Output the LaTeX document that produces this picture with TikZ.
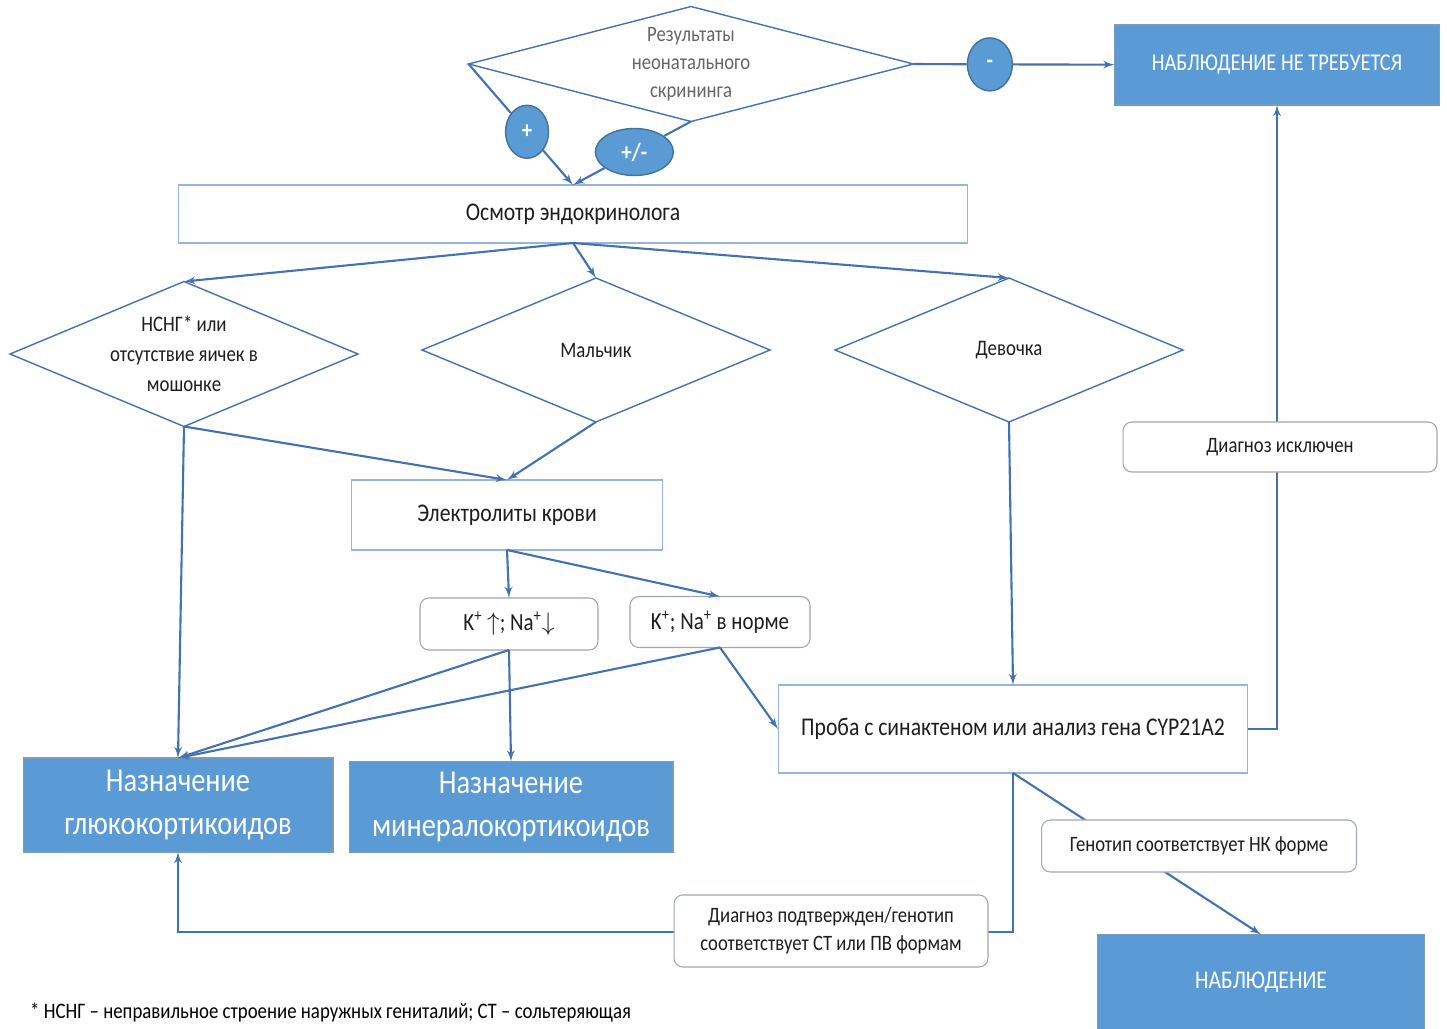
\documentclass[tikz,border=0pt]{standalone}
\usepackage{fontspec}
\setmainfont{Carlito}[FakeStretch=0.85]
\usetikzlibrary{shapes.geometric,arrows,calc}

\definecolor{lineblue}{RGB}{68,114,176}
\definecolor{fillblue}{RGB}{91,155,213}
\definecolor{edgeblue}{RGB}{65,113,156}
\definecolor{boxline}{RGB}{150,180,220}
\definecolor{tagline}{RGB}{160,168,178}
\definecolor{txt}{RGB}{30,30,30}

\newcommand{\fsz}[2]{\fontsize{#1}{#2}\selectfont}

\tikzset{
  conn/.style={draw=lineblue, line width=1.2pt},
  arr/.style={conn, -latex'},
  decision/.style={diamond, draw=lineblue, line width=.8pt, fill=white,
    inner sep=0pt, outer sep=0pt, minimum width=6.96cm, minimum height=2.88cm},
  dtext/.style={align=center, text=txt, font=\fsz{12.6pt}{17pt}},
  plainbox/.style={rectangle, draw=boxline, line width=.6pt, fill=white,
    text=txt, font=\fsz{14.5pt}{17pt}, outer sep=0pt},
  bluebox/.style={rectangle, draw=edgeblue!70, line width=.6pt, fill=fillblue,
    text=white, align=center, outer sep=0pt},
  tag/.style={rectangle, rounded corners=5pt, draw=tagline, line width=.6pt,
    fill=white, text=txt, align=center, font=\fsz{12.5pt}{16pt}, outer sep=0pt},
  sign/.style={ellipse, draw=edgeblue, line width=.8pt, fill=fillblue,
    text=white, inner sep=0pt, font=\bfseries\fsz{14pt}{15pt}}
}

\begin{document}
\begin{tikzpicture}[x=0.02cm, y=-0.02cm]
\useasboundingbox (0,0) rectangle (1447,1028);

% screening and first step
\node[decision, minimum width=8.9cm, minimum height=2.3cm,
  label={[dtext, text=black!60, font=\fsz{12.5pt}{16pt}]center:{Результаты\\неонатального\\скрининга}}] (res) at (691,64) {};
\node[bluebox, minimum width=6.5cm, minimum height=1.6cm, font=\fsz{13.7pt}{16pt}] (nnt) at (1277,65) {НАБЛЮДЕНИЕ НЕ ТРЕБУЕТСЯ};
\node[plainbox, minimum width=15.8cm, minimum height=1.16cm] (osm) at (573,214) {Осмотр эндокринолога};

\node[sign, minimum width=.86cm, minimum height=1.06cm] (plus) at ($(res.west)!0.56!(osm.north)$) {+};
\node[sign, minimum width=1.56cm, minimum height=.94cm] (pm) at ($(res.south)!0.48!(osm.north)$) {+/-};
\node[sign, minimum width=.9cm, minimum height=1.06cm] (minus) at ($(res.east)!0.38!(nnt.west)$) {-};

% sex / genitals
\node[decision, minimum height=2.9cm,
  label={[dtext]center:{НСНГ* или\\отсутствие яичек в\\мошонке}}] (dsd) at (184,354) {};
\node[decision, label={[dtext]center:Мальчик}] (boy) at (596,350) {};
\node[decision, label={[dtext]center:Девочка}] (girl) at (1009,350) {};

% electrolytes
\node[plainbox, minimum width=6.22cm, minimum height=1.4cm] (elec) at (507,515) {Электролиты крови};
\node[tag, minimum width=3.56cm, minimum height=1.04cm, font=\fsz{14pt}{16pt}] (kup) at (509,624)
  {K\textsuperscript{+} $\uparrow$; Na\textsuperscript{+}$\downarrow$};
\node[tag, minimum width=3.6cm, minimum height=1.02cm, font=\fsz{14pt}{16pt}] (knorm) at (720,622)
  {K\textsuperscript{+}; Na\textsuperscript{+} в норме};

% treatment and tests
\node[bluebox, minimum width=6.2cm, minimum height=1.88cm, font=\fsz{19pt}{24.5pt}] (gluco) at (178,805) {Назначение\\глюкокортикоидов};
\node[bluebox, minimum width=6.48cm, minimum height=1.82cm, font=\fsz{19pt}{24.5pt}] (miner) at (511,807) {Назначение\\минералокортикоидов};
\node[plainbox, minimum width=9.4cm, minimum height=1.76cm] (test) at (1013,729) {Проба с синактеном или анализ гена CYP21A2};
\node[bluebox, minimum width=6.54cm, minimum height=1.9cm, font=\fsz{14.5pt}{17pt}] (obs) at (1261,982) {НАБЛЮДЕНИЕ};

% connectors
\draw[conn] (res.west) -- (plus);
\draw[arr] (plus) -- (osm.north);
\draw[conn] (res.south) -- (pm);
\draw[arr] (pm) -- (osm.north);
\draw[conn] (res.east) -- (minus);
\draw[arr] (minus) -- (nnt);

\foreach \d in {dsd,boy,girl} \draw[arr] (osm.south) -- (\d.north);
\draw[arr] (dsd.south) -- (elec.north);
\draw[arr] (boy.south) -- (elec.north);
\draw[arr] (dsd.south) -- (gluco.north);
\draw[arr] (girl.south) -- (test.north);

\draw[arr] (elec.south) -- (kup.north);
\draw[arr] (elec.south) -- (knorm.north);
\draw[arr] (kup.south) -- (gluco.north);
\draw[arr] (kup.south) -- (miner.north);
\draw[arr] (knorm.south) -- (gluco.north);
\draw[arr] (knorm.south) -- (test.west);

\draw[arr] (test.east) -| (nnt.south);
\draw[arr] (test.south) -- ++(0,159) -| (gluco.south);
\draw[arr] (test.south) -- (obs.north);

% labels on the connectors
\node[tag, minimum width=6.28cm, minimum height=1cm] (excl) at (1280,447) {Диагноз исключен};
\node[tag, minimum width=6.3cm, minimum height=1.04cm] (nkform) at (1199,846) {Генотип соответствует НК форме};
\node[tag, minimum width=6.28cm, minimum height=1.44cm] (confirm) at (831,931) {Диагноз подтвержден/генотип\\соответствует СТ или ПВ формам};

\node[anchor=west, text=black, font=\fsz{12.6pt}{15pt}] (note) at (24,1012)
  {* НСНГ – неправильное строение наружных гениталий; СТ – сольтеряющая};
\end{tikzpicture}
\end{document}
